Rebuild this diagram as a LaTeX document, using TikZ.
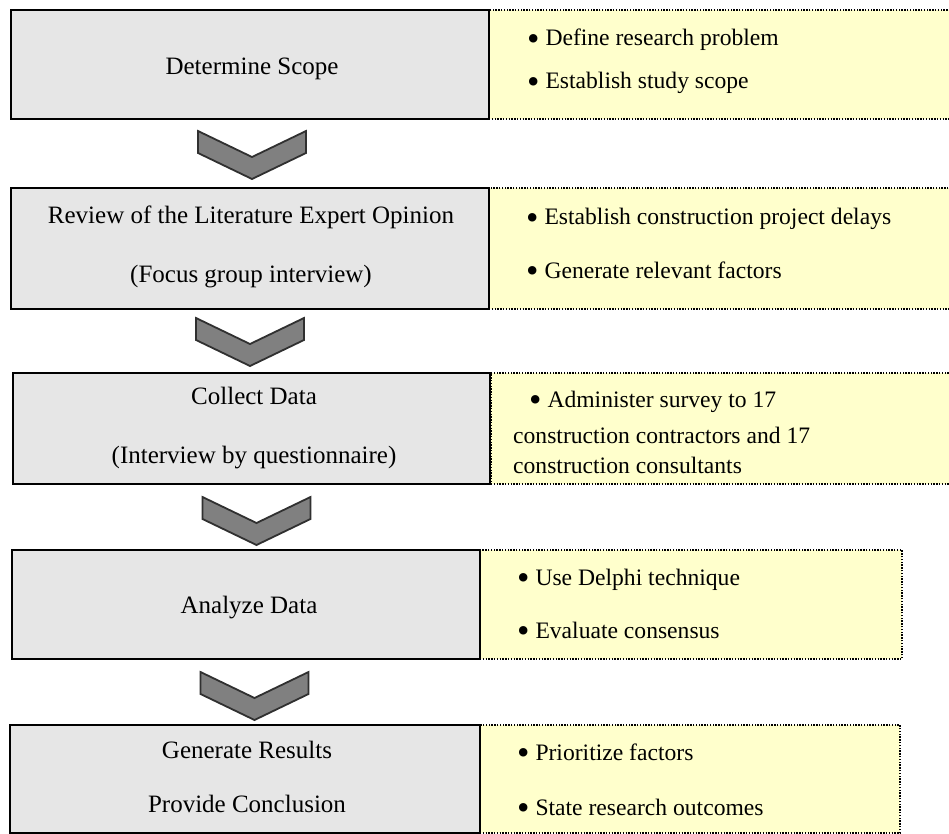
\documentclass[tikz,border=0pt]{standalone}
\usepackage{fontspec}
\usepackage{graphicx}
\setmainfont{Liberation Serif}
\definecolor{stagegray}{HTML}{E6E6E6}
\definecolor{noteyellow}{HTML}{FFFFCC}
\definecolor{chevgray}{HTML}{808080}
\definecolor{chevline}{HTML}{303030}
% enlarged bullet centred on the x-height
\newcommand{\bigbul}{\raisebox{-0.2em}{\scalebox{1.5}{•}}}
\tikzset{
  stage/.style={draw=black, line width=2.2pt, fill=stagegray, rectangle,
    inner sep=0pt, outer sep=0pt, anchor=north west},
  notes/.style={draw=black, line width=1.3pt, dash pattern=on 1.4pt off 1.4pt,
    fill=noteyellow, rectangle, inner sep=0pt, outer sep=0pt, anchor=north west},
  lbl/.style={font=\fontsize{25}{30}\selectfont, inner sep=0pt, anchor=base},
  item/.style={font=\fontsize{23.6}{28}\selectfont, inner sep=0pt, anchor=base west},
  chevfill/.style={draw=chevline, line width=1.8pt, fill=chevgray, line join=miter},
  chevron/.pic={\path[chevfill] (-54,0) -- (0,26) -- (54,0) -- (54,22) -- (0,48) -- (-54,22) -- cycle;}
}
\begin{document}
\begin{tikzpicture}[x=1pt,y=-1pt]
\clip (0,0) rectangle (949,834);
\fill[white] (0,0) rectangle (949,834);

% stage 1
\node[notes, minimum width=480pt, minimum height=109pt] (n1) at (489,10) {};
\node[stage, minimum width=478pt, minimum height=109pt] (s1) at (11,10) {};
\node[lbl] (s1a) at (252,75) {Determine Scope};
\node[item] (n1a) at (527,46) {\bigbul\ Define research problem};
\node[item] (n1b) at (527,89) {\bigbul\ Establish study scope};

\pic at (252,131) {chevron};

% stage 2
\node[notes, minimum width=480pt, minimum height=121pt] (n2) at (489,188) {};
\node[stage, minimum width=478pt, minimum height=121pt] (s2) at (11,188) {};
\node[lbl] (s2a) at (251,223) {Review of the Literature Expert Opinion};
\node[lbl] (s2b) at (251,282) {(Focus group interview)};
\node[item] (n2a) at (526,225) {\bigbul\ Establish construction project delays};
\node[item] (n2b) at (526,278) {\bigbul\ Generate relevant factors};

\pic at (250,318) {chevron};

% stage 3
\node[notes, minimum width=480pt, minimum height=111pt] (n3) at (491,373) {};
\node[stage, minimum width=477pt, minimum height=111pt] (s3) at (13,373) {};
\node[lbl] (s3a) at (254,404) {Collect Data};
\node[lbl] (s3b) at (254,463) {(Interview by questionnaire)};
\node[item] (n3a) at (529,407) {\bigbul\ Administer survey to 17};
\node[item] (n3b) at (513,443) {construction contractors and 17};
\node[item] (n3c) at (513,473) {construction consultants};

\pic at (256.5,497) {chevron};

% stage 4
\node[notes, minimum width=422pt, minimum height=109pt] (n4) at (480,550) {};
\node[stage, minimum width=468pt, minimum height=109pt] (s4) at (12,550) {};
\node[lbl] (s4a) at (249,613) {Analyze Data};
\node[item] (n4a) at (517,585) {\bigbul\ Use Delphi technique};
\node[item] (n4b) at (517,638) {\bigbul\ Evaluate consensus};

\pic at (254.5,672) {chevron};

% stage 5
\node[notes, minimum width=420pt, minimum height=108pt] (n5) at (480,725) {};
\node[stage, minimum width=470pt, minimum height=108pt] (s5) at (10,725) {};
\node[lbl] (s5a) at (247,758) {Generate Results};
\node[lbl] (s5b) at (247,812) {Provide Conclusion};
\node[item] (n5a) at (517,760) {\bigbul\ Prioritize factors};
\node[item] (n5b) at (517,815) {\bigbul\ State research outcomes};
\end{tikzpicture}
\end{document}
